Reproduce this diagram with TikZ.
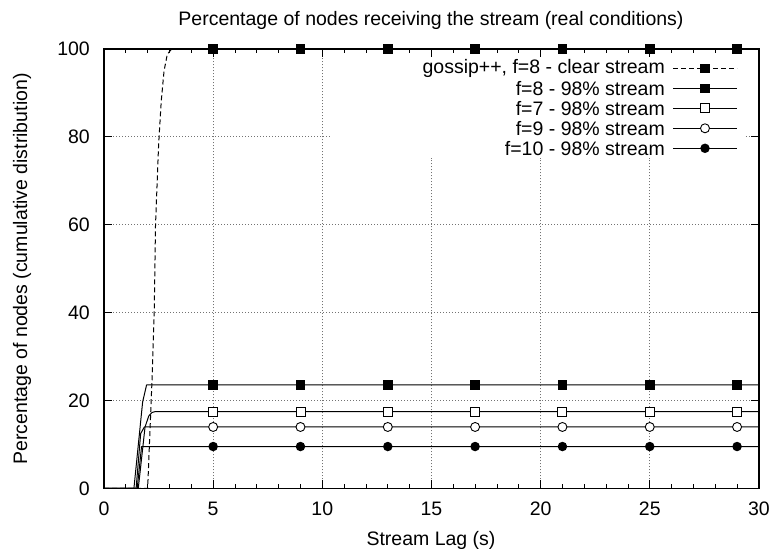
\documentclass[tikz,border=0pt]{standalone}
\usepackage{fontspec}
\setmainfont{Liberation Sans}
\begin{document}
\begin{tikzpicture}[x=1pt,y=1pt,
  lbl/.style={inner sep=0pt, font=\fontsize{19.5}{22}\selectfont},
  gridln/.style={black!55, line width=0.8pt, dash pattern=on 1pt off 2pt},
  tickln/.style={black, line width=0.8pt},
  curve/.style={black, line width=1pt, line join=round},
  dcurve/.style={curve, dash pattern=on 5pt off 3pt},
  fsq/.style={fill=black, draw=none, minimum size=9.5pt, inner sep=0pt, shape=rectangle},
  osq/.style={draw=black, fill=white, line width=0.9pt, minimum size=9pt, inner sep=0pt, shape=rectangle},
  ocirc/.style={draw=black, fill=white, line width=0.9pt, minimum size=9pt, inner sep=0pt, shape=circle},
  fcirc/.style={fill=black, draw=none, minimum size=9.5pt, inner sep=0pt, shape=circle},
]
\useasboundingbox[fill=white] (0,0) rectangle (774,549);

\node[lbl] (title) at (431,529) {Percentage of nodes receiving the stream (real conditions)};
\node[lbl] (xlabel) at (431,9) {Stream Lag (s)};
\node[lbl, rotate=90] (ylabel) at (22,280) {Percentage of nodes (cumulative distribution)};

\begin{scope}[shift={(104,60.5)}, x=21.83pt, y=4.395pt]
  % grid
  \draw[gridln] (5,0) -- (5,100);
  \draw[gridln] (10,0) -- (10,100);
  \foreach \gx in {15,20,25} \draw[gridln] (\gx,0) -- (\gx,75.2);
  \foreach \gy in {20,40,60} \draw[gridln] (0,\gy) -- (30,\gy);
  \draw[gridln] (0,80) -- (10.35,80);
  \draw[gridln] (29.4,80) -- (30,80);
  % ticks
  \foreach \i in {1,...,29} {
    \draw[tickln] (\i,0) -- ++(0,4pt);
    \draw[tickln] (\i,100) -- ++(0,-4pt);
  }
  \foreach \i in {5,10,...,25} {
    \draw[tickln] (\i,0) -- ++(0,8pt);
    \draw[tickln] (\i,100) -- ++(0,-8pt);
  }
  \foreach \j in {20,40,...,80} {
    \draw[tickln] (0,\j) -- ++(8pt,0);
    \draw[tickln] (30,\j) -- ++(-8pt,0);
  }
  % tick labels
  \foreach \i in {0,5,...,30}
    \path (\i,0) node[lbl, yshift=-20.5pt] (xt\i) {\i};
  \foreach \j in {0,20,...,100}
    \path (0,\j) node[lbl, anchor=east, xshift=-14pt] (yt\j) {\j};
  % border
  \draw[line width=1.2pt] (0,0) rectangle (30,100);

  % curves
  \draw[curve] (0,0) -- (1.37,0) -- (1.77,19.7) -- (1.95,23.55) -- (30,23.55);
  \draw[curve] (0,0) -- (1.57,0) -- (1.88,14) -- (2.05,16.5) -- (2.2,17.3) -- (2.35,17.5) -- (30,17.5);
  \draw[curve] (0,0) -- (1.47,0) -- (1.68,12.5) -- (1.85,14) -- (30,14);
  \draw[curve] (0,0) -- (1.52,0) -- (1.72,9.55) -- (30,9.55);
  \draw[dcurve] (0,0) -- (2.0,0) -- (2.21,26) -- (2.30,40) -- (2.36,60) -- (2.5,78) -- (2.62,88) -- (2.75,95) -- (2.9,98.8) -- (3.1,100) -- (30,100);

  % markers
  \foreach \mx in {5,9,...,29} {
    \node[fsq] (ma\mx) at (\mx,100) {};
    \node[fsq] (mb\mx) at (\mx,23.55) {};
    \node[osq] (mc\mx) at (\mx,17.5) {};
    \node[ocirc] (md\mx) at (\mx,14) {};
    \node[fcirc] (me\mx) at (\mx,9.55) {};
  }
\end{scope}

% legend
\node[lbl, anchor=east] (k1) at (665,480.7) {gossip++, f=8 - clear stream};
\node[lbl, anchor=east] (k2) at (665,460.7) {f=8 - 98\% stream};
\node[lbl, anchor=east] (k3) at (665,440.7) {f=7 - 98\% stream};
\node[lbl, anchor=east] (k4) at (665,420.7) {f=9 - 98\% stream};
\node[lbl, anchor=east] (k5) at (665,400.7) {f=10 - 98\% stream};
\draw[dcurve] (673,480.7) -- (737,480.7);
\foreach \ky in {460.7,440.7,420.7,400.7} \draw[curve] (673,\ky) -- (737,\ky);
\node[fsq] (ks1) at (705,480.7) {};
\node[fsq] (ks2) at (705,460.7) {};
\node[osq] (ks3) at (705,440.7) {};
\node[ocirc] (ks4) at (705,420.7) {};
\node[fcirc] (ks5) at (705,400.7) {};
\end{tikzpicture}
\end{document}
